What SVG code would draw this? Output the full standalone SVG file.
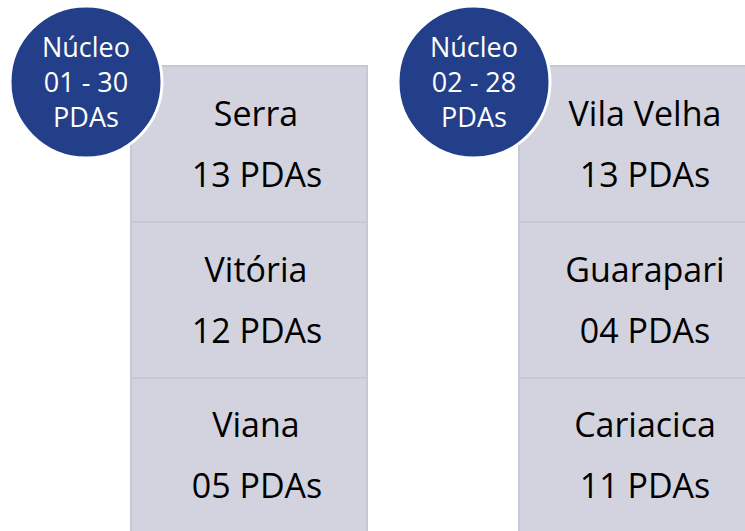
<svg xmlns="http://www.w3.org/2000/svg" width="745" height="531" viewBox="0 0 745 531">
<style>
.cell{fill:#d2d3de;stroke:#c6c8d5;stroke-width:2}
.t{font-family:"Open Sans","Liberation Sans",sans-serif;font-size:34px;fill:#000;text-anchor:middle}
.c{fill:#233f8a;stroke:#fff;stroke-width:3}
.ct{font-family:"Open Sans","Liberation Sans",sans-serif;font-size:27px;fill:#fff;text-anchor:middle}
</style>
<rect width="745" height="531" fill="#fff"/>
<g id="col1">
<g id="serra"><rect class="cell" x="131" y="66" width="236" height="156"/><text class="t" x="256" y="126">Serra</text><text class="t" x="257" y="187">13 PDAs</text></g>
<g id="vitoria"><rect class="cell" x="131" y="222" width="236" height="156"/><text class="t" x="256" y="282">Vitória</text><text class="t" x="257" y="343">12 PDAs</text></g>
<g id="viana"><rect class="cell" x="131" y="378" width="236" height="160"/><text class="t" x="256" y="437">Viana</text><text class="t" x="257" y="498">05 PDAs</text></g>
</g>
<g id="col2">
<g id="vilavelha"><rect class="cell" x="519" y="66" width="240" height="156"/><text class="t" x="645" y="126">Vila Velha</text><text class="t" x="645" y="187">13 PDAs</text></g>
<g id="guarapari"><rect class="cell" x="519" y="222" width="240" height="156"/><text class="t" x="645" y="282">Guarapari</text><text class="t" x="645" y="343">04 PDAs</text></g>
<g id="cariacica"><rect class="cell" x="519" y="378" width="240" height="160"/><text class="t" x="645" y="437">Cariacica</text><text class="t" x="645" y="498">11 PDAs</text></g>
</g>
<g id="nucleo1"><circle class="c" cx="86" cy="82" r="76"/><text class="ct" x="86" y="57">Núcleo</text><text class="ct" x="86" y="92">01 - 30</text><text class="ct" x="86" y="127">PDAs</text></g>
<g id="nucleo2"><circle class="c" cx="474" cy="82" r="76"/><text class="ct" x="474" y="57">Núcleo</text><text class="ct" x="474" y="92">02 - 28</text><text class="ct" x="474" y="127">PDAs</text></g>
<g id="connectors"/>
</svg>
